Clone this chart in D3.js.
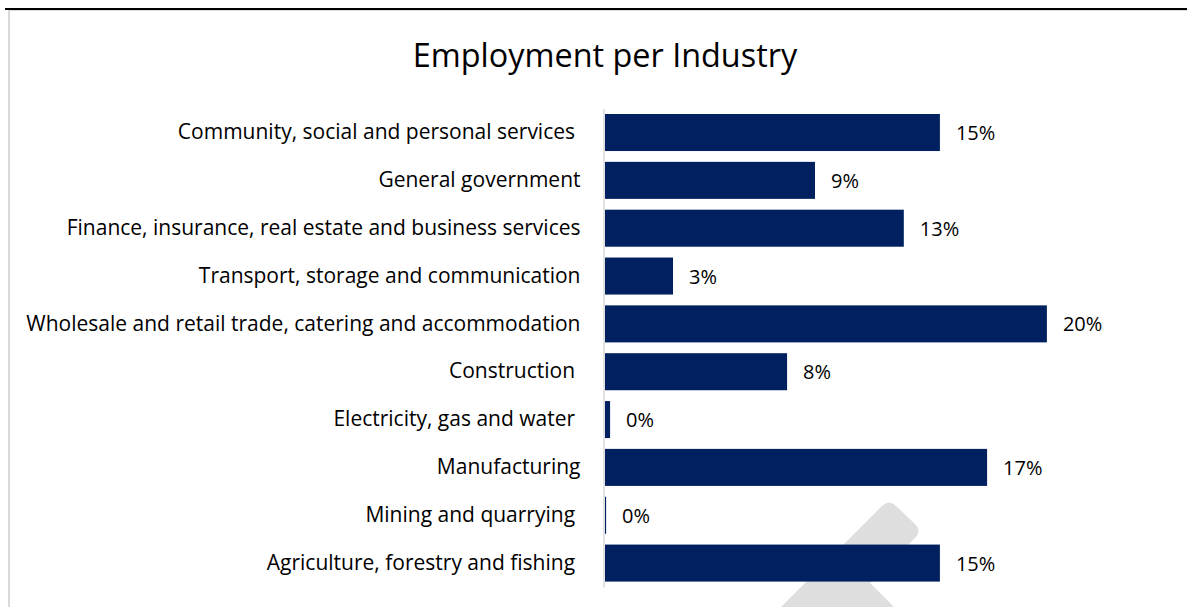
<!DOCTYPE html>
<html>
<head>
<meta charset="utf-8">
<script src="https://cdn.jsdelivr.net/npm/d3@7"></script>
<style>
  html, body { margin: 0; padding: 0; background: #fff; }
  svg { display: block; }
  text { font-family: "Open Sans", sans-serif; fill: #000; white-space: pre; }
</style>
</head>
<body>
<svg id="chart" width="1187" height="607"></svg>
<script>
// Industries, top to bottom (trailing spaces kept as in the source labels)
const industries = [
  "Community, social and personal services ",
  "General government",
  "Finance, insurance, real estate and business services",
  "Transport, storage and communication",
  "Wholesale and retail trade, catering and accommodation",
  "Construction ",
  "Electricity, gas and water ",
  "Manufacturing",
  "Mining and quarrying ",
  "Agriculture, forestry and fishing "
];
// Share of total employment
const shares = [0.1512, 0.0948, 0.1349, 0.0307, 0.1995, 0.0822, 0.0023, 0.1725, 0.0005, 0.1512];
const chartTitle = "Employment per Industry";

const svg = d3.select("#chart");
const W = 1187, H = 607;
const barColor = "#002060";
const labelFont = "\"Open Sans\", sans-serif";

// Frame lines
svg.append("line").attr("x1", 5).attr("x2", W).attr("y1", 9).attr("y2", 9)
  .attr("stroke", "#000").attr("stroke-width", 2);
svg.append("line").attr("x1", 9).attr("x2", W).attr("y1", 10.5).attr("y2", 10.5)
  .attr("stroke", "#d9d9d9").attr("stroke-width", 1);
svg.append("line").attr("x1", 9).attr("x2", 9).attr("y1", 10).attr("y2", H)
  .attr("stroke", "#d9d9d9").attr("stroke-width", 2);

// Faint background emblem
svg.append("path")
  .attr("d", "M779,609 L882,506 Q889,499 896,506 L915,524 Q922,531 915,538 L870,583 L896,609 Z")
  .attr("fill", "#dedede");

// Title
svg.append("text")
  .attr("x", 605).attr("y", 54)
  .attr("text-anchor", "middle").attr("dominant-baseline", "central")
  .style("font-size", "32.4px")
  .text(chartTitle);

const x = d3.scaleLinear().domain([0, 0.20]).range([605, 1048]);
const y = d3.scaleBand().domain(industries).range([108.6, 587]).paddingInner(0.226).paddingOuter(0.113);

// Category axis
const yAxis = svg.append("g")
  .attr("transform", `translate(${x(0) - 1.5},0)`)
  .call(d3.axisLeft(y).tickSize(0).tickPadding(23));
yAxis.select(".domain").attr("stroke", "#d9d9d9").attr("stroke-width", 1.5);
yAxis.selectAll("text").style("font-size", "21px").style("font-family", labelFont).attr("fill", "#000");

// Bars
svg.append("g").selectAll("rect")
  .data(industries)
  .join("rect")
  .attr("x", x(0))
  .attr("y", d => y(d))
  .attr("width", (d, i) => x(shares[i]) - x(0))
  .attr("height", y.bandwidth())
  .attr("fill", barColor);

// Value labels
const fmt = d3.format(".0%");
svg.append("g").selectAll("text")
  .data(industries)
  .join("text")
  .attr("x", (d, i) => x(shares[i]) + 16)
  .attr("y", d => y(d) + y.bandwidth() / 2)
  .attr("dominant-baseline", "central")
  .style("font-size", "20px")
  .text((d, i) => fmt(shares[i]));
</script>
</body>
</html>
